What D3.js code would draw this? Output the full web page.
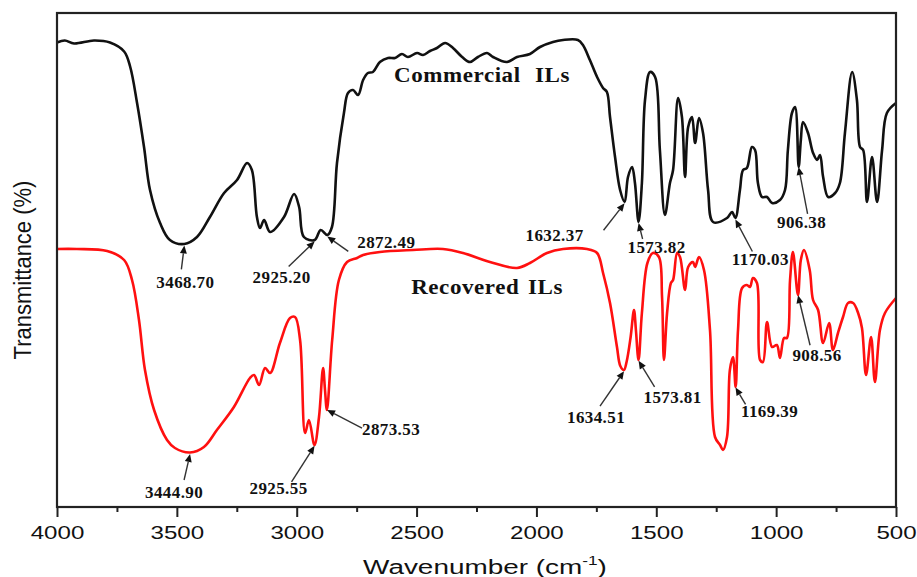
<!DOCTYPE html>
<html>
<head>
<meta charset="utf-8">
<script src="https://cdn.jsdelivr.net/npm/d3@7"></script>
<style>
  html, body { margin: 0; padding: 0; background: #fff; }
  svg { display: block; }
</style>
</head>
<body>
<svg id="chart" width="917" height="577"></svg>
<script>
// FTIR spectra: [wavenumber (cm-1), transmittance (arb. %)]
const commercialSpectrum = [
  [4000,92.9],[3967,93.3],[3929,92.7],[3846,93.3],[3779,92.9],[3720,91.1],[3695,88.1],[3666,80.8],
  [3637,72.0],[3612,63.4],[3570,56.8],[3529,53.4],[3469,52.6],[3416,54.0],[3362,58.0],[3303,62.8],
  [3249,65.4],[3207,68.8],[3187,67.4],[3166,58.0],[3153,55.8],[3136,57.4],[3111,55.0],[3053,58.0],
  [3011,62.6],[2990,60.0],[2970,54.0],[2925,53.4],[2900,55.4],[2872,54.4],[2853,56.0],[2832,68.8],
  [2803,78.8],[2786,82.8],[2765,83.4],[2744,82.4],[2723,85.4],[2703,86.8],[2682,87.0],[2653,89.0],
  [2619,89.8],[2590,89.8],[2561,90.6],[2536,90.0],[2498,90.8],[2473,90.4],[2444,91.2],[2415,91.8],
  [2381,92.8],[2348,91.8],[2310,90.0],[2277,89.0],[2244,90.0],[2206,90.8],[2181,90.0],[2123,89.0],
  [2081,90.0],[2027,90.6],[1985,92.0],[1931,93.0],[1889,93.4],[1827,93.4],[1806,92.4],[1777,89.4],
  [1747,86.0],[1722,83.8],[1706,83.0],[1693,78.0],[1672,70.0],[1651,63.4],[1632,61.0],[1618,66.0],
  [1601,68.0],[1589,64.8],[1574,57.0],[1560,64.8],[1547,81.4],[1526,87.0],[1505,86.0],[1485,71.4],
  [1464,58.4],[1443,64.8],[1430,67.4],[1409,81.8],[1393,78.0],[1380,66.0],[1367,76.0],[1351,78.0],
  [1338,72.8],[1322,77.8],[1305,74.8],[1284,63.4],[1263,57.0],[1205,57.8],[1184,59.0],[1170,57.8],
  [1151,63.4],[1138,67.4],[1122,67.8],[1101,72.0],[1088,71.4],[1076,64.8],[1059,62.0],[1038,62.0],
  [1017,60.8],[984,61.4],[963,63.4],[951,71.4],[934,78.8],[921,80.0],[906,68.0],[897,73.4],
  [888,77.0],[867,74.8],[846,70.8],[829,69.4],[817,70.4],[804,66.0],[783,62.0],[754,62.8],
  [734,64.8],[713,74.8],[683,87.0],[663,81.4],[650,72.0],[637,71.4],[621,61.0],[600,70.0],
  [579,61.0],[558,71.4],[538,78.8],[500,80.8]
];

const recoveredSpectrum = [
  [4000,51.6],[3917,51.6],[3791,51.2],[3720,49.4],[3687,45.4],[3658,37.4],[3633,27.4],[3595,19.4],
  [3541,13.4],[3508,11.8],[3445,10.9],[3387,12.0],[3333,15.4],[3262,20.0],[3195,25.8],[3178,26.4],
  [3157,24.4],[3132,27.8],[3111,26.8],[3070,32.8],[3028,37.8],[3007,38.0],[2986,33.4],[2965,14.8],
  [2949,17.4],[2926,12.4],[2907,18.0],[2890,27.8],[2882,23.4],[2874,19.4],[2852,33.4],[2824,45.4],
  [2790,49.0],[2748,49.8],[2723,50.4],[2653,51.0],[2515,51.4],[2390,51.6],[2306,50.8],[2194,49.0],
  [2081,47.8],[2027,48.8],[1956,50.8],[1889,51.6],[1789,51.6],[1747,50.8],[1722,46.8],[1693,40.8],
  [1664,32.0],[1650,28.2],[1635,27.4],[1624,29.0],[1607,34.0],[1593,39.4],[1585,35.4],[1574,29.4],
  [1560,38.8],[1537,48.8],[1514,50.8],[1489,50.0],[1476,42.0],[1468,29.4],[1455,38.8],[1439,44.8],
  [1430,45.4],[1413,50.8],[1401,50.0],[1380,43.4],[1367,48.0],[1347,49.0],[1338,48.0],[1322,50.0],
  [1301,47.4],[1276,35.4],[1255,14.0],[1234,12.4],[1222,11.4],[1205,14.0],[1193,27.4],[1180,30.0],
  [1169,24.0],[1159,35.4],[1142,43.8],[1122,44.4],[1109,44.0],[1097,45.8],[1080,44.8],[1067,29.4],
  [1055,29.0],[1038,37.0],[1017,32.0],[997,32.4],[984,29.8],[967,33.8],[955,33.8],[942,45.4],
  [930,51.0],[909,42.4],[897,49.4],[884,51.4],[860,47.4],[846,41.4],[825,39.4],[804,32.8],
  [779,36.8],[763,31.4],[742,34.8],[721,38.0],[700,40.8],[679,40.8],[658,38.8],[642,35.8],
  [625,26.4],[604,34.0],[588,25.0],[567,35.4],[546,38.8],[500,41.8]
];

// Band positions marked on each spectrum
const commercialPeaks = ["3468.70","2925.20","2872.49","1632.37","1573.82","1170.03","906.38"];
const recoveredPeaks  = ["3444.90","2925.55","2873.53","1634.51","1573.81","1169.39","908.56"];

const seriesNames = ["Commercial ILs", "Recovered ILs"];
const majorTicks = [4000,3500,3000,2500,2000,1500,1000,500];
const minorTicks = [3750,3250,2750,2250,1750,1250,750];

// ---- layout ----
const svg = d3.select("#chart");
const plotLeft = 57, plotRight = 896, plotTop = 13, plotBottom = 507;
const sans = "Liberation Sans, Arial, sans-serif";
const serif = "Liberation Serif, Times New Roman, serif";

const x = d3.scaleLinear().domain([4000, 500]).range([plotLeft, plotRight]);
const y = d3.scaleLinear().domain([0, 98.8]).range([plotBottom, plotTop]);

svg.append("rect").attr("width", 917).attr("height", 577).attr("fill", "#fff");

const line = d3.line()
  .x(d => x(d[0]))
  .y(d => y(d[1]))
  .curve(d3.curveCatmullRom.alpha(0.5));

svg.append("path").datum(commercialSpectrum)
  .attr("d", line).attr("fill", "none")
  .attr("stroke", "#111").attr("stroke-width", 2.6).attr("stroke-linejoin", "round");

svg.append("path").datum(recoveredSpectrum)
  .attr("d", line).attr("fill", "none")
  .attr("stroke", "#ff1010").attr("stroke-width", 2.6).attr("stroke-linejoin", "round");

// frame
svg.append("rect")
  .attr("x", plotLeft).attr("y", plotTop)
  .attr("width", plotRight - plotLeft).attr("height", plotBottom - plotTop)
  .attr("fill", "none").attr("stroke", "#222").attr("stroke-width", 2.2);

// bottom axis: major + minor ticks
const axisMajor = d3.axisBottom(x).tickValues(majorTicks).tickSize(10).tickPadding(9)
  .tickFormat(d3.format("d"));
const gMajor = svg.append("g").attr("transform", `translate(0,${plotBottom})`).call(axisMajor);
gMajor.select(".domain").remove();
gMajor.selectAll("line").attr("stroke", "#222").attr("stroke-width", 2);
gMajor.selectAll("text")
  .attr("font-family", sans)
  .attr("font-size", 19).attr("fill", "#111")
  .attr("transform", "scale(1.27,1)");

const axisMinor = d3.axisBottom(x).tickValues(minorTicks).tickSize(5).tickFormat("");
const gMinor = svg.append("g").attr("transform", `translate(0,${plotBottom})`).call(axisMinor);
gMinor.select(".domain").remove();
gMinor.selectAll("line").attr("stroke", "#222").attr("stroke-width", 2);

// axis titles
const xt = svg.append("text")
  .attr("transform", "translate(485,574) scale(1.33,1)")
  .attr("text-anchor", "middle")
  .attr("font-family", sans)
  .attr("font-size", 21).attr("fill", "#111");
xt.append("tspan").text("Wavenumber (cm");
xt.append("tspan").attr("dy", -9).attr("font-size", 13).text("-1");
xt.append("tspan").attr("dy", 9).text(")");

svg.append("text")
  .attr("transform", "translate(31,270) scale(1.1,1) rotate(-90)")
  .attr("text-anchor", "middle")
  .attr("font-family", sans)
  .attr("font-size", 22).attr("fill", "#111")
  .text("Transmittance (%)");

// series names, placed in data coordinates
const nameSpots = [[2227, 85.0, 7], [2206, 42.6, 2]];
seriesNames.forEach((name, i) => {
  const [wn, t, ws] = nameSpots[i];
  svg.append("text")
    .attr("transform", `translate(${x(wn)},${y(t)}) scale(1.15,1)`)
    .attr("text-anchor", "middle").attr("font-family", serif).attr("font-weight", "bold")
    .attr("font-size", 20).attr("letter-spacing", 0.5).attr("word-spacing", ws).attr("fill", "#111")
    .text(name);
});

// value of a spectrum at a wavenumber (linear between points)
function valueAt(spec, wn) {
  for (let i = 0; i < spec.length - 1; i++) {
    const a = spec[i], b = spec[i + 1];
    if (wn <= a[0] && wn >= b[0]) {
      const t = (a[0] - wn) / (a[0] - b[0]);
      return a[1] + t * (b[1] - a[1]);
    }
  }
  return spec[spec.length - 1][1];
}

// arrow start and label offsets (px) relative to each arrow tip
const commercialLayout = [
  [-3, 24, 1, 43], [-26, 25, -33, 42], [21, 15, 59, 12], [-21, 27, -70, 38],
  [4, 16, 18, 30], [17, 32, 25, 46], [9, 47, 3, 61]
];
const recoveredLayout = [
  [-6, 26, -16, 44], [-23, 36, -36, 48], [35, 18, 64, 25], [-24, 35, -28, 52],
  [16, 26, 34, 42], [10, 17, 34, 30], [12, 50, 19, 66]
];

const ann = svg.append("g");
function annotate(spec, peaks, layout) {
  peaks.forEach((label, i) => {
    const wn = parseFloat(label);
    const tx = x(wn), ty = y(valueAt(spec, wn)) + 1.5;
    const [sdx, sdy, ldx, ldy] = layout[i];
    const sx = tx + sdx, sy = ty + sdy;
    const ang = Math.atan2(ty - sy, tx - sx);
    const hl = 8, hw = 3.5;
    const bx = tx - hl * Math.cos(ang), by = ty - hl * Math.sin(ang);
    ann.append("line")
      .attr("x1", sx).attr("y1", sy).attr("x2", bx).attr("y2", by)
      .attr("stroke", "#333").attr("stroke-width", 1.4);
    const px = -Math.sin(ang), py = Math.cos(ang);
    ann.append("path")
      .attr("d", `M${tx},${ty}L${bx + hw * px},${by + hw * py}L${bx - hw * px},${by - hw * py}Z`)
      .attr("fill", "#111");
    ann.append("text")
      .attr("x", tx + ldx).attr("y", ty + ldy)
      .attr("text-anchor", "middle").attr("font-family", serif).attr("font-weight", "bold")
      .attr("font-size", 17).attr("letter-spacing", 0.4).attr("fill", "#111")
      .text(label);
  });
}
annotate(commercialSpectrum, commercialPeaks, commercialLayout);
annotate(recoveredSpectrum, recoveredPeaks, recoveredLayout);
</script>
</body>
</html>
